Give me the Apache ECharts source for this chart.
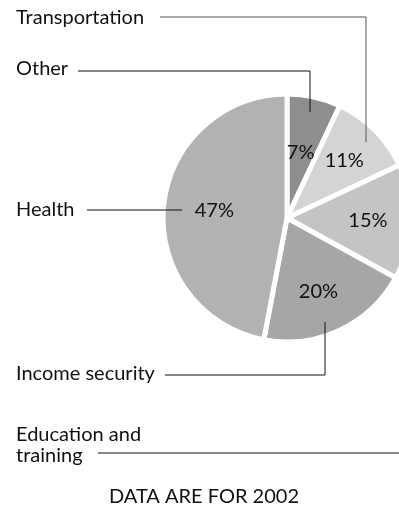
<!DOCTYPE html>
<html><head><meta charset="utf-8">
<script src="https://cdn.jsdelivr.net/npm/echarts@6/dist/echarts.min.js"></script>
<style>html,body{margin:0;padding:0;background:#fff}#c{width:399px;height:512px}</style>
</head><body><div id="c"></div>
<script>
const categories = ['Other', 'Transportation', 'Education and\ntraining', 'Income security', 'Health'];
const values = [7, 11, 15, 20, 47];
const sliceColors = ['#8e8e8e', '#d4d4d4', '#c4c4c4', '#a6a6a6', '#b2b2b2'];
const note = 'DATA ARE FOR 2002';

const FONT = 'Lato';
const chart = echarts.init(document.getElementById('c'), null, {renderer: 'canvas'});
const data = categories.map((c, i) => ({name: c, value: values[i], itemStyle: {color: sliceColors[i]}}));
const labelNudge = [[-4, 14], [0, 0], [0, 0], [-3, 0], [8, 0]];

function ln(x1, y1, x2, y2, col) {
  return {type: 'line', shape: {x1, y1, x2, y2}, style: {stroke: col || '#111', lineWidth: 1}, z: 10};
}
function tx(x, y, t, size) {
  return {type: 'text', x, y, style: {text: t, font: (size || 20) + 'px ' + FONT, fill: '#111', textVerticalAlign: 'middle', lineHeight: 21}, z: 10};
}

chart.setOption({
  animation: false,
  series: [
    {
      type: 'pie', center: [287, 218], radius: [0, 124], startAngle: 90, clockwise: true,
      silent: true, data: data,
      itemStyle: {borderColor: '#fff', borderWidth: 5},
      label: {show: false}, labelLine: {show: false}
    },
    {
      type: 'pie', center: [287, 218], radius: [32, 124], startAngle: 90, clockwise: true,
      silent: true,
      data: data.map((d, i) => ({name: d.name, value: d.value, label: {offset: labelNudge[i]}})),
      itemStyle: {color: 'rgba(0,0,0,0)'},
      label: {show: true, position: 'inside', formatter: '{c}%', fontFamily: FONT, fontSize: 20, color: '#111'},
      labelLine: {show: false}
    }
  ],
  graphic: [
    tx(16, 18, categories[1]),
    ln(160, 17, 366, 17, '#555'), ln(366, 17, 366, 142, '#555'),
    tx(16, 69, categories[0]),
    ln(78, 71, 310, 71), ln(310, 71, 310, 112),
    tx(16, 210, categories[4]),
    ln(87, 210, 182, 210),
    tx(16, 374, categories[3]),
    ln(165, 375, 325, 375), ln(325, 375, 325, 322),
    tx(16, 445, categories[2]),
    ln(98, 453, 399, 453),
    {type: 'text', x: 204, y: 497, style: {text: note, font: '20px ' + FONT, fill: '#111', textAlign: 'center', textVerticalAlign: 'middle'}, z: 10}
  ]
});
</script></body></html>
